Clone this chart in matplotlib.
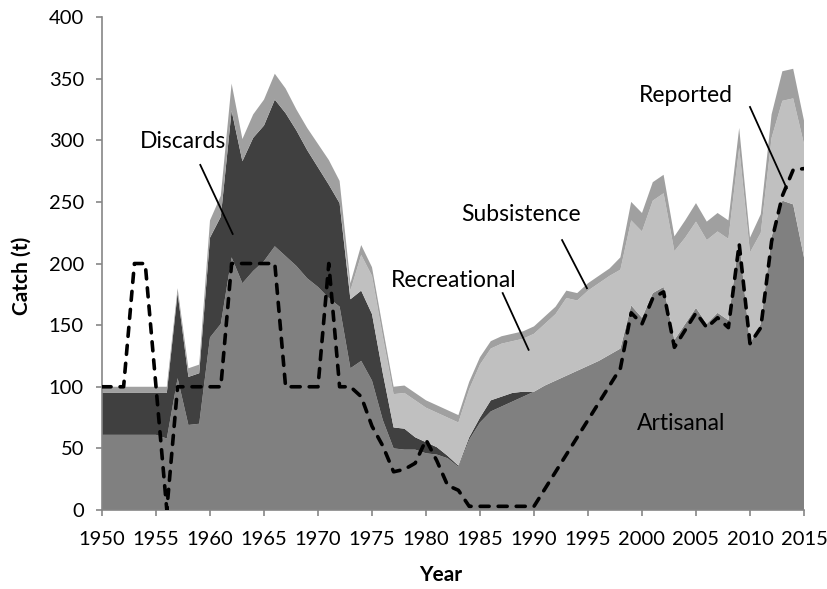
import numpy as np
import matplotlib
matplotlib.use("Agg")
import matplotlib.pyplot as plt

# Catch by sector (t), 1950-2015
years = np.arange(1950, 2016)

artisanal = [61, 61, 61, 61, 61, 61, 58, 107, 69, 70,
             140, 151, 205, 184, 194, 202, 214, 206, 198, 188,
             181, 172, 165, 115, 121, 105, 73, 50, 49, 49,
             46, 45, 42, 35, 57, 71, 80, 84, 88, 92,
             96, 101, 105, 109, 113, 117, 121, 126, 131, 166,
             156, 176, 181, 138, 151, 164, 151, 160, 154, 219,
             135, 151, 222, 251, 248, 205]

discards = [34, 34, 34, 34, 34, 34, 37, 69, 39, 41,
            81, 87, 119, 99, 108, 110, 119, 116, 110, 104,
            97, 92, 84, 56, 57, 54, 38, 17, 17, 10,
            9, 6, 2, 1, 2, 4, 9, 8, 7, 4,
            0, 0, 0, 0, 0, 0, 0, 0, 0, 0,
            0, 0, 0, 0, 0, 0, 0, 0, 0, 0,
            0, 0, 0, 0, 0, 0]

recreational = [0, 0, 0, 0, 0, 0, 0, 0, 0, 0,
                0, 0, 0, 0, 0, 0, 0, 0, 0, 0,
                0, 0, 0, 7, 29, 31, 30, 27, 29, 30,
                28, 28, 31, 35, 39, 43, 42, 43, 42, 43,
                47, 50, 54, 63, 57, 61, 63, 64, 64, 69,
                70, 75, 76, 72, 70, 70, 68, 66, 66, 75,
                74, 74, 80, 81, 86, 92]

subsistence = [5, 5, 5, 5, 5, 5, 5, 4, 7, 7,
               14, 17, 22, 18, 19, 21, 21, 20, 17, 18,
               19, 20, 18, 6, 8, 7, 7, 6, 6, 6,
               6, 6, 6, 6, 6, 6, 6, 6, 6, 6,
               6, 6, 6, 6, 6, 6, 6, 6, 10, 15,
               15, 15, 15, 12, 14, 15, 15, 15, 15, 16,
               12, 15, 19, 24, 24, 19]

reported = [100, 100, 100, 200, 200, 100, 0, 100, 100, 100,
            100, 100, 200, 200, 200, 200, 200, 100, 100, 100,
            100, 200, 100, 100, 92, 68, 52, 31, 33, 38,
            57, 40, 20, 16, 3, 3, 3, 3, 3, 3,
            3, 17, 31, 45, 59, 73, 87, 101, 115, 160,
            151, 172, 177, 132, 146, 160, 148, 156, 148, 216,
            135, 148, 218, 255, 276, 277]

colors = ["#808080", "#404040", "#c0c0c0", "#a0a0a0"]
axis_grey = "#868686"

plt.rcParams["font.family"] = ["Lato", "DejaVu Sans"]

fig = plt.figure(figsize=(8.28, 5.89), dpi=100)
ax = fig.add_axes([0.1232, 0.1341, 0.8478, 0.8370])

ax.stackplot(years, artisanal, discards, recreational, subsistence,
             colors=colors, linewidth=0)
ax.plot(years, reported, color="black", lw=2.6, linestyle=(0, (2.5, 2.5)),
        dash_capstyle="round", solid_capstyle="round", zorder=3)

ax.set_xlim(1950, 2015)
ax.set_ylim(0, 400)
ax.set_xticks(np.arange(1950, 2016, 5))
ax.set_yticks(np.arange(0, 401, 50))
ax.tick_params(axis="both", direction="out", length=4, width=1.2,
               color=axis_grey, labelsize=14.5, labelcolor="black")
ax.tick_params(axis="x", pad=11)
ax.tick_params(axis="y", pad=9)
for side in ["top", "right"]:
    ax.spines[side].set_visible(False)
for side in ["left", "bottom"]:
    ax.spines[side].set_color(axis_grey)
    ax.spines[side].set_linewidth(1.2)

fig.text(0.026, 0.531, "Catch (t)", rotation=90, ha="center", va="center",
         fontsize=15, fontweight="bold")
fig.text(0.532, 0.024, "Year", ha="center", va="center",
         fontsize=15, fontweight="bold")

# sector labels with leader lines
ax.text(1957.5, 299, "Discards", ha="center", va="center", fontsize=16.5)
ax.plot([1959.1, 1962.1], [280, 224], color="black", lw=1.3)
ax.text(1982.6, 186, "Recreational", ha="center", va="center", fontsize=16.5)
ax.plot([1987.1, 1989.5], [176, 130], color="black", lw=1.3)
ax.text(1988.8, 240, "Subsistence", ha="center", va="center", fontsize=16.5)
ax.plot([1992.6, 1994.9], [219, 180], color="black", lw=1.3)
ax.text(2004.1, 336, "Reported", ha="center", va="center", fontsize=16.5)
ax.plot([2010.0, 2013.4], [327, 261], color="black", lw=1.3)
ax.text(2003.6, 70, "Artisanal", ha="center", va="center", fontsize=16.5)

fig.savefig("out.png", dpi=100)
